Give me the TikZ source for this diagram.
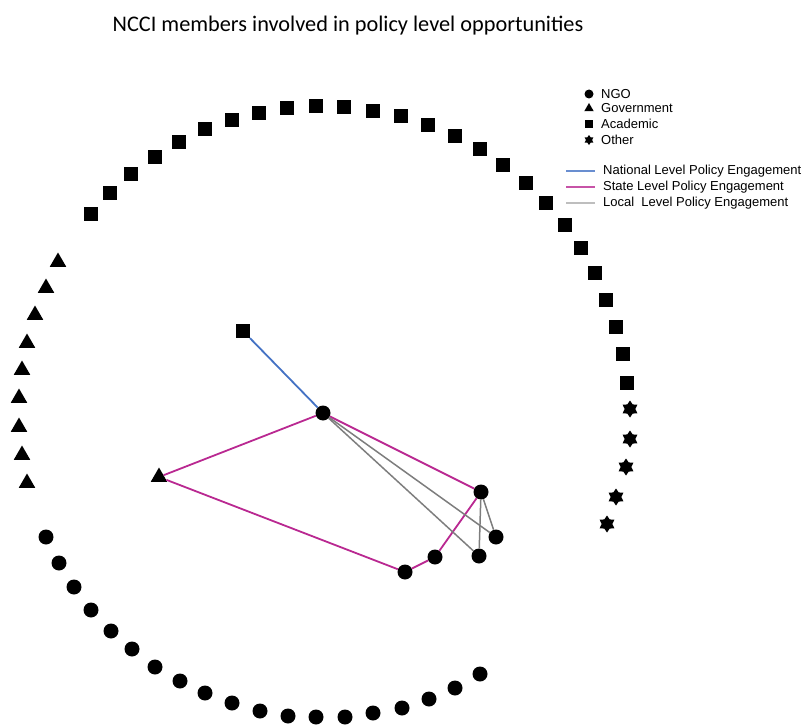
\documentclass[tikz,border=0pt]{standalone}
\usepackage{fontspec}
\setmainfont{Liberation Sans}
\newfontfamily\titlefont{Carlito}
\usetikzlibrary{shapes.geometric}

\definecolor{natblue}{RGB}{68,114,196}
\definecolor{statemag}{RGB}{185,40,145}
\definecolor{localgray}{RGB}{125,125,125}

\tikzset{
  ngo/.style={circle,fill=black,inner sep=0pt,minimum size=15pt},
  gov/.style={regular polygon,regular polygon sides=3,fill=black,inner sep=0pt,minimum size=19pt},
  acad/.style={rectangle,fill=black,inner sep=0pt,minimum size=14pt},
  other/.style={star,star points=6,star point ratio=1.6,fill=black,inner sep=0pt,minimum size=17pt},
  national/.style={natblue,line width=1.8pt},
  statelvl/.style={statemag,line width=1.8pt},
  locallvl/.style={localgray,line width=1.5pt},
  legtext/.style={anchor=west,font=\fontsize{13}{15}\selectfont,inner sep=0pt}
}

\begin{document}
\begin{tikzpicture}[x=1pt,y=-1pt]
\useasboundingbox (0,0) rectangle (804,725);

\node (title) at (348,26) {\titlefont\fontsize{22.3}{26}\selectfont NCCI members involved in policy level opportunities};

% outer ring of members
\foreach \p [count=\i] in {(91,214),(110,193),(131,174),(155,157),(179,142),(205,129),(232,120),(259,113),(287,108),(316,106),(344,107),(373,111),(401,116),(428,125),(455,136),(480,149),(503,165),(526,183),(546,203),(565,225),(581,248),(595,273),(606,300),(616,327),(623,354),(627,383)}
  \node[acad] (a\i) at \p {};
\foreach \p [count=\i] in {(58,262),(46,288),(35,315),(27,343),(22,370),(19,398),(19,427),(22,455),(27,483)}
  \node[gov] (g\i) at \p {};
\foreach \p [count=\i] in {(630,409),(630,439),(626,467),(616,497),(607,524)}
  \node[other] (o\i) at \p {};
\foreach \p [count=\i] in {(46,537),(59,563),(74,587),(91,610),(111,631),(132,649),(155,667),(180,681),(205,693),(232,703),(260,711),(288,716),(316,717),(345,717),(373,713),(402,708),(429,699),(455,688),(480,674)}
  \node[ngo] (n\i) at \p {};

% members with policy engagement
\node[acad] (acad) at (243,331) {};
\node[ngo] (hub) at (323,413) {};
\node[gov] (gov) at (159,477) {};
\node[ngo] (r1) at (481,492) {};
\node[ngo] (r2) at (496,537) {};
\node[ngo] (r3) at (479,556) {};
\node[ngo] (r4) at (435,557) {};
\node[ngo] (r5) at (405,572) {};

\draw[national] (acad) -- (hub);
\draw[statelvl] (hub) -- (gov);
\draw[statelvl] (gov) -- (r5);
\draw[statelvl] (hub) -- (r1);
\draw[statelvl] (r5) -- (r4);
\draw[statelvl] (r4) -- (r1);
\draw[locallvl] (hub) -- (r2);
\draw[locallvl] (hub) -- (r3);
\draw[locallvl] (r1) -- (r2);
\draw[locallvl] (r1) -- (r3);

% legend
\node[ngo,minimum size=9pt] (lngo) at (589,94) {};
\node[gov,minimum size=11pt] (lgov) at (589,108.5) {};
\node[acad,minimum size=8.5pt] (lacad) at (589,124) {};
\node[other,minimum size=10pt] (loth) at (589,140) {};
\node[legtext] (tngo) at (601,94) {NGO};
\node[legtext] (tgov) at (601,108) {Government};
\node[legtext] (tacad) at (601,124) {Academic};
\node[legtext] (toth) at (601,140) {Other};

\coordinate (ln1) at (566,171);
\coordinate (ln2) at (566,187);
\coordinate (ln3) at (566,203);
\node[legtext] (tnat) at (603,171) {National Level Policy Engagement};
\node[legtext] (tsta) at (603,187) {State Level Policy Engagement};
\node[legtext] (tloc) at (603,203) {Local\ \ Level Policy Engagement};
\draw[natblue!80,line width=1.4pt] (ln1) -- ++(29,0);
\draw[statemag!80,line width=1.4pt] (ln2) -- ++(29,0);
\draw[localgray!50,line width=1.4pt] (ln3) -- ++(29,0);
\end{tikzpicture}
\end{document}
